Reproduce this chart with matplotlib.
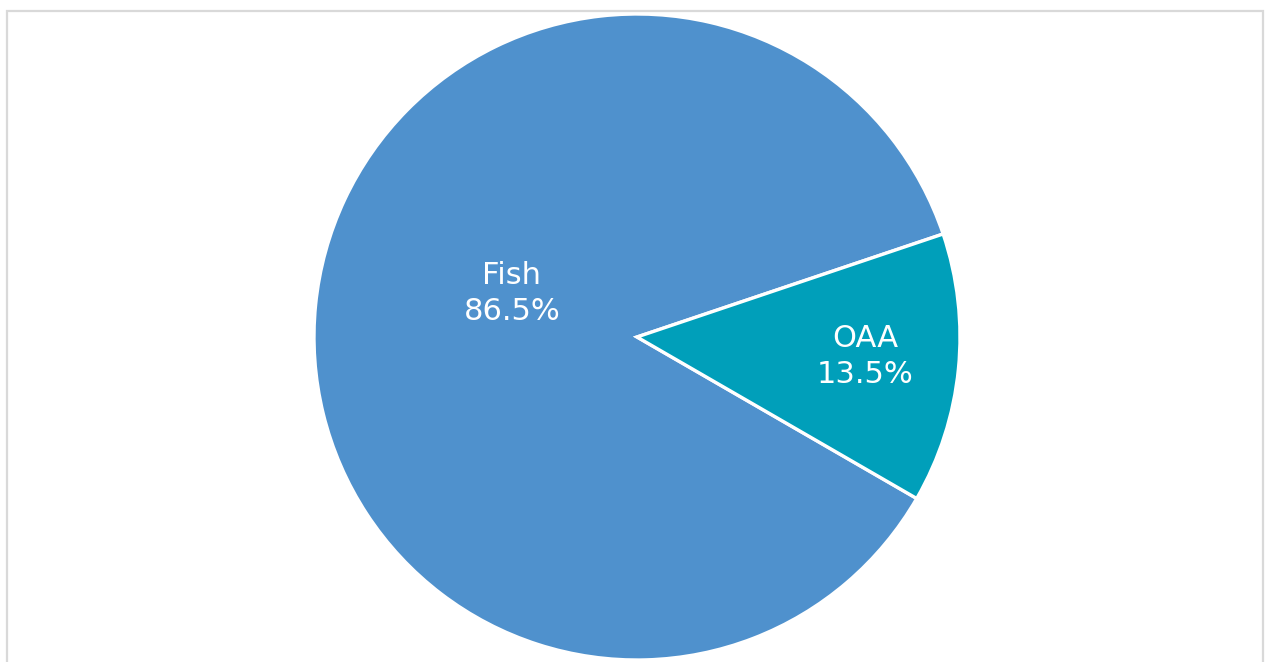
import matplotlib
matplotlib.use("Agg")
import matplotlib.pyplot as plt
from matplotlib.patches import Rectangle
import numpy as np

# slice data
labels = ["Fish", "OAA"]
shares = [86.5, 13.5]
colors = ["#4F91CD", "#009FBA"]

W, H = 1266, 662
fig = plt.figure(figsize=(W / 100, H / 100), dpi=100)

# light grey chart-area frame
fig.patches.append(Rectangle((7 / W, -0.05), 1256 / W, (H - 11) / H + 0.05,
                             transform=fig.transFigure, fill=False,
                             edgecolor="#D9D9D9", linewidth=1.6))

cx, cy, r = 637, 337, 323
ax = fig.add_axes([(cx - r) / W, (H - cy - r) / H, 2 * r / W, 2 * r / H])

wedges, _ = ax.pie(shares, colors=colors, startangle=18.6, counterclock=True,
                   radius=1.0, wedgeprops=dict(edgecolor="white", linewidth=2.4))
ax.set_xlim(-1, 1)
ax.set_ylim(-1, 1)
ax.axis("off")

# label placement: (distance from centre, angle in degrees)
label_pos = [(0.41, 161.0), (0.71, -4.8)]
for name, val, (dist, ang) in zip(labels, shares, label_pos):
    a = np.deg2rad(ang)
    ax.text(dist * np.cos(a), dist * np.sin(a), f"{name}\n{val:.1f}%",
            ha="center", va="center", color="white", fontsize=22,
            linespacing=1.3, family="DejaVu Sans")

fig.savefig("out.png", dpi=100)
